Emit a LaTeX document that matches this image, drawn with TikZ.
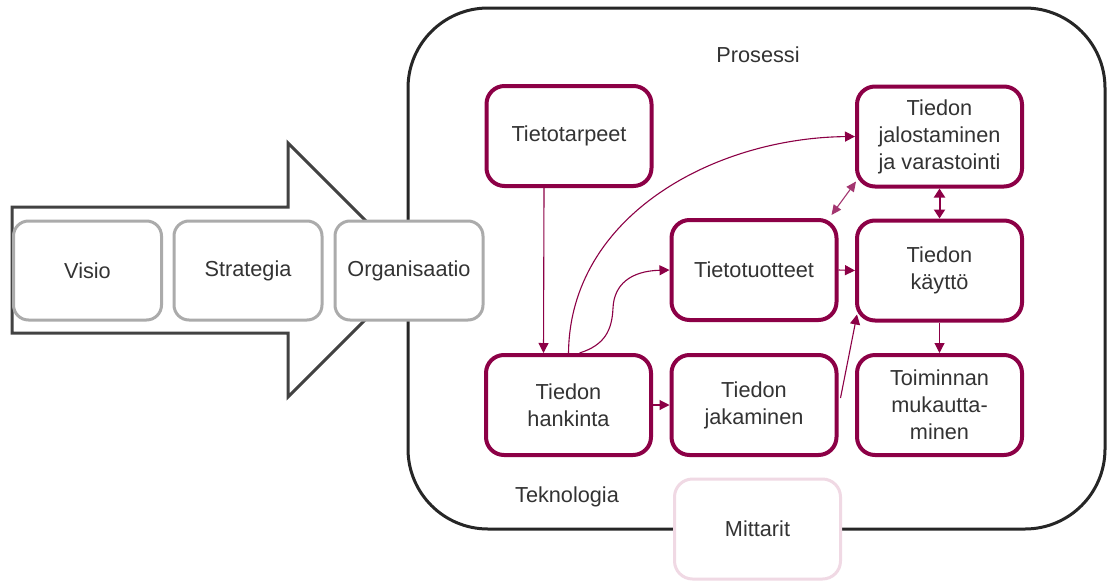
\documentclass[tikz,border=0pt]{standalone}
\usepackage{fontspec}
\setmainfont{Liberation Sans}
\usetikzlibrary{arrows.meta}
\definecolor{wine}{HTML}{8C0046}
\definecolor{wineline}{HTML}{A33670}
\definecolor{boxgray}{HTML}{ABABAB}
\definecolor{arrowgray}{HTML}{424242}
\definecolor{framegray}{HTML}{262626}
\definecolor{palepink}{HTML}{F0D9E4}
\definecolor{txt}{HTML}{333333}
\tikzset{
  every node/.style={font=\fontsize{21.7}{27}\selectfont, text=txt, align=center},
  graybox/.style={draw=boxgray, line width=3pt, fill=white, rounded corners=15pt,
    minimum width=148pt, minimum height=99pt},
  winebox/.style={draw=wine, line width=4pt, fill=white, rounded corners=18pt,
    minimum width=165pt, minimum height=100pt},
  pinkbox/.style={draw=palepink, line width=3pt, fill=white, rounded corners=18pt,
    minimum width=166pt, minimum height=100pt},
  link/.style={draw=wineline, line width=1.1pt, -{Triangle[length=10pt,width=10pt]}, wine},
  biglink/.style={draw=wine, line width=2pt, {Triangle[length=9pt,width=11pt]}-{Triangle[length=9pt,width=11pt]}},
  duallink/.style={draw=wineline, line width=1.1pt, {Triangle[length=10pt,width=9pt]}-{Triangle[length=10pt,width=9pt]}},
}
\begin{document}
\begin{tikzpicture}[x=1pt, y=-1pt]
\useasboundingbox (0,0) rectangle (1107,581);

% outer frame
\draw[framegray, line width=3pt, rounded corners=80pt, fill=white] (408,8) rectangle (1105,529);

% large arrow behind the strategy boxes
\draw[arrowgray, line width=3pt, fill=white, line join=miter]
  (12,207) -- (288,207) -- (288,143) -- (415,270) -- (288,397) -- (288,333) -- (12,333) -- cycle;

\node[graybox] (visio) at (87.5,270.5) {Visio};
\node[graybox] (strat) at (248,270.5) {Strategia};
\node[graybox] (org) at (409,270.5) {Organisaatio};

% frame labels
\node (prosessi) at (758,55) {Prosessi};
\node (tekno) at (567,497) {Teknologia};

% process boxes
\node[winebox] (tarpeet) at (569,136) {Tietotarpeet};
\node[winebox] (jalostus) at (939.5,136.5) {Tiedon\\jalostaminen\\ja varastointi};
\node[winebox] (tuotteet) at (754,270) {Tietotuotteet};
\node[winebox] (kaytto) at (939.5,270.5) {Tiedon\\käyttö};
\node[winebox] (hankinta) at (568.5,405) {Tiedon\\hankinta};
\node[winebox] (jakaminen) at (754,405) {Tiedon\\jakaminen};
\node[winebox] (toiminta) at (939.5,405) {Toiminnan\\mukautta-\\minen};

\node[pinkbox] (mittarit) at (757.5,529) {Mittarit};

% connectors
\draw[link] ([xshift=-25pt]tarpeet.south) -- ([xshift=-25pt]hankinta.north);
\draw[link] (hankinta.east) -- (jakaminen.west);
\draw[link] (tuotteet.east) -- (kaytto.west);
\draw[link] (kaytto.south) -- (toiminta.north);
\draw[biglink] (jalostus.south) -- (kaytto.north);
\draw[duallink] ([shift={(-7,-3)}]tuotteet.north east) -- ([shift={(1,-7)}]jalostus.south west);
\draw[link] ([shift={(2,-7)}]jakaminen.east) -- ([shift={(2,-8)}]kaytto.south west);
\draw[link] (hankinta.north) .. controls (570,215) and (715,138) .. (jalostus.west);
\draw[link] ([xshift=11pt]hankinta.north) .. controls (605,345) and (612,330) .. (613,308)
  .. controls (614,285) and (630,271) .. (tuotteet.west);
\end{tikzpicture}
\end{document}
